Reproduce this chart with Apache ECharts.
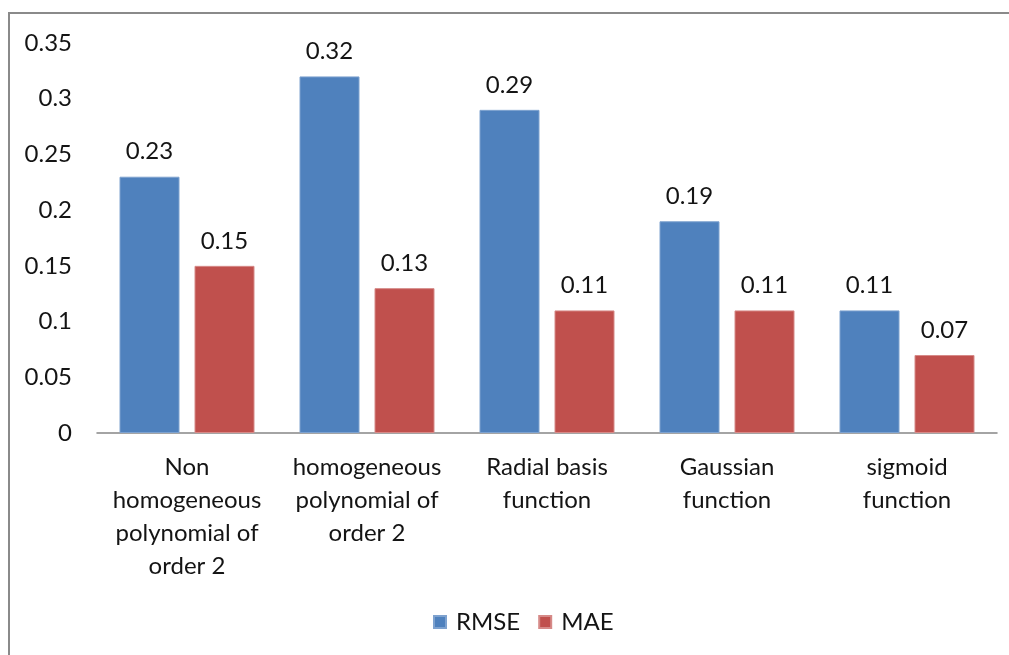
<!DOCTYPE html>
<html>
<head>
<meta charset="utf-8">
<script src="https://cdn.jsdelivr.net/npm/echarts@6/dist/echarts.min.js"></script>
<style>
  html, body { margin: 0; padding: 0; background: #fff; }
  #frame {
    position: absolute; left: 8px; top: 12px; width: 1010px; height: 660px;
    border-top: 2px solid #8a8a8a; border-left: 2px solid #8a8a8a;
  }
  #chart { position: absolute; left: 0; top: 0; width: 1009px; height: 655px; }
</style>
</head>
<body>
<div id="frame"></div>
<div id="chart"></div>
<script>
// Kernel functions compared by error metric
const categories = [
  'Non\nhomogeneous\npolynomial of\norder 2',
  'homogeneous\npolynomial of\norder 2',
  'Radial basis\nfunction',
  'Gaussian\nfunction',
  'sigmoid\nfunction'
];
const rmse = [0.23, 0.32, 0.29, 0.19, 0.11];
const mae = [0.15, 0.13, 0.11, 0.11, 0.07];
const yTicks = { min: 0, max: 0.35, interval: 0.05 };

const FONT = 'Lato';
const TEXT = '#141414';
const SIZE = 24;

const chart = echarts.init(document.getElementById('chart'), null, { renderer: 'canvas' });

const valueLabel = {
  show: true,
  position: 'top',
  distance: 13,
  fontFamily: FONT,
  fontSize: SIZE,
  color: TEXT,
  formatter: p => String(p.value)
};

chart.setOption({
  animation: false,
  backgroundColor: 'transparent',
  textStyle: { fontFamily: FONT },
  grid: { left: 97, right: 12, top: 43, bottom: 222, containLabel: false },
  legend: {
    data: ['RMSE', 'MAE'],
    bottom: 16,
    left: 428,
    itemWidth: 12,
    itemHeight: 12,
    itemGap: 18,
    icon: 'rect',
    textStyle: { fontFamily: FONT, fontSize: SIZE, color: TEXT, padding: [0, 0, 0, 5] }
  },
  xAxis: {
    type: 'category',
    data: categories,
    axisLine: { show: true, lineStyle: { color: '#868686', width: 1.5 } },
    axisTick: { show: false },
    axisLabel: {
      interval: 0,
      margin: 18,
      fontFamily: FONT,
      fontSize: SIZE,
      lineHeight: 33,
      color: TEXT,
      align: 'center'
    }
  },
  yAxis: {
    type: 'value',
    min: yTicks.min,
    max: yTicks.max,
    interval: yTicks.interval,
    splitLine: { show: false },
    axisLine: { show: false },
    axisTick: { show: false },
    axisLabel: {
      margin: 25,
      fontFamily: FONT,
      fontSize: SIZE,
      color: TEXT,
      formatter: v => String(Math.round(v * 100) / 100)
    }
  },
  series: [
    {
      name: 'RMSE',
      type: 'bar',
      data: rmse,
      barWidth: 60,
      barGap: '25%',
      itemStyle: { color: '#4F81BD', borderColor: '#7ea2cf', borderWidth: 1 },
      label: valueLabel
    },
    {
      name: 'MAE',
      type: 'bar',
      data: mae,
      barWidth: 60,
      barGap: '25%',
      itemStyle: { color: '#C0504D', borderColor: '#d68a88', borderWidth: 1 },
      label: valueLabel
    }
  ]
});
</script>
</body>
</html>
